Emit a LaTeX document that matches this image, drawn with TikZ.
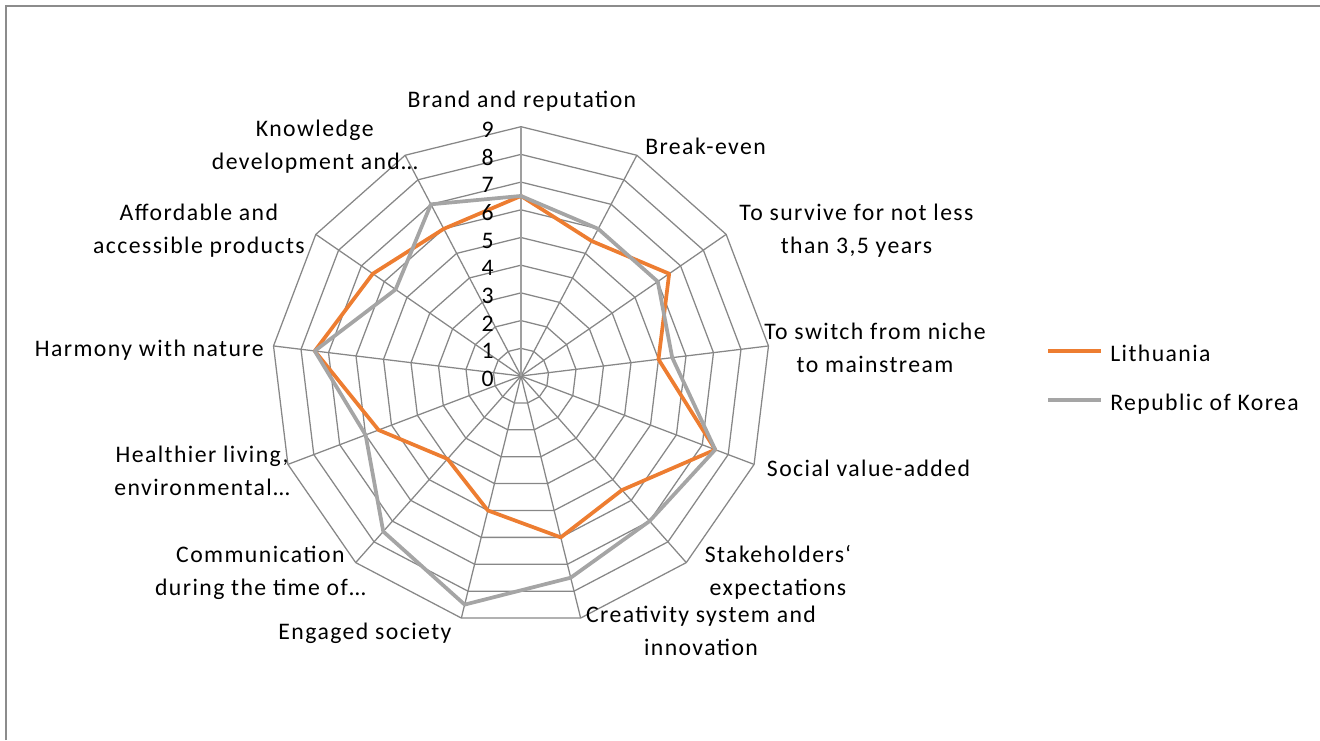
\documentclass[tikz,border=0pt]{standalone}
\usepackage{fontspec}
\setmainfont{Carlito}[LetterSpace=6]
\usetikzlibrary{positioning}
\definecolor{lithorange}{HTML}{ED7D31}
\definecolor{koreagray}{HTML}{A5A5A5}
\definecolor{gridgray}{HTML}{878787}
\definecolor{framegray}{HTML}{8C8C8C}

\begin{document}
\begin{tikzpicture}[x=0.75pt, y=0.75pt,
  font=\fontsize{17.8}{24.75}\selectfont,
  gridline/.style = {draw=gridgray, line width=0.95pt},
  valaxis/.style = {draw=gridgray!80, line width=1.7pt},
  series/.style = {line width=2.8pt, line join=round},
  cat/.style = {inner sep=0pt, align=center},
  tick/.style = {inner sep=0pt, anchor=east}]
\useasboundingbox (-521,-364) rectangle (799,376);
\draw[framegray, line width=1.1pt] (-515,-364) -- (-515,370) -- (799,370);

\begin{scope}[scale=27.7]
% web of the radar
\foreach \r in {1,...,9}
  \draw[gridline] (90:\r) \foreach \k in {1,...,12} { -- ({90-\k*360/13}:\r) } -- cycle;
\foreach \k in {0,...,12}
  \coordinate (a\k) at ({90-\k*360/13}:9);
\coordinate (o) at (0,0);
\foreach \k in {1,...,12}
  \draw[gridline] (o) -- (a\k);
\draw[valaxis] (o) -- (a0);
% Lithuania
\draw[series, lithorange] (90:6.5) \foreach \v [count=\k] in {5.5,6.5,5,7.5,5.5,6,5,4,5.5,7.5,6.5,6} { -- ({90-\k*360/13}:\v) } -- cycle;
% Republic of Korea
\draw[series, koreagray] (90:6.5) \foreach \v [count=\k] in {6,6,5.5,7.5,7,7.5,8.5,7.5,6,7.5,5.5,7} { -- ({90-\k*360/13}:\v) } -- cycle;
\end{scope}

\foreach \v in {0,...,9}
  \node[tick] (t\v) at (-27,{\v*27.7-3}) {\v};

\node[cat, anchor=base] (brand) at (1,268.7) {Brand and reputation};
\node[cat, anchor=base west] (breakeven) at (124,221.7) {Break-even};
\node[cat] (survive) at (335.5,145) {To survive for not less\\than 3,5 years};
\node[cat] (switch) at (354,28.5) {To switch from niche\\to mainstream};
\node[cat, anchor=base west] (social) at (245.7,-100.7) {Social value-added};
\node[cat] (stake) at (257,-196.3) {Stakeholders‘\\expectations};
\node[cat] (creat) at (180,-255.3) {Creativity system and\\innovation};
\node[cat, anchor=base east] (engaged) at (-69.3,-263.3) {Engaged society};
\node[cat, anchor=east] (comm) at (-155,-197) {Communication\\during the time of…};
\node[cat, anchor=east] (health) at (-231,-94.5) {Healthier living,\\environmental…};
\node[cat, anchor=base east] (harmony) at (-257,20) {Harmony with nature};
\node[cat, anchor=east] (afford) at (-216,145) {Affordable and\\accessible products};
\node[cat, anchor=east] (know) at (-103,229) {Knowledge\\development and…};

% legend
\node[cat, anchor=base west] (lith) at (589,14.3) {Lithuania};
\node[cat, anchor=base west] (korea) at (589,-34) {Republic of Korea};
\coordinate (lit1) at (527,25.3);
\coordinate (lit2) at (579.7,25.3);
\coordinate (kor1) at (527,-24);
\coordinate (kor2) at (579.7,-24);
\draw[series, lithorange] (lit1) -- (lit2);
\draw[series, koreagray] (kor1) -- (kor2);
\end{tikzpicture}
\end{document}
